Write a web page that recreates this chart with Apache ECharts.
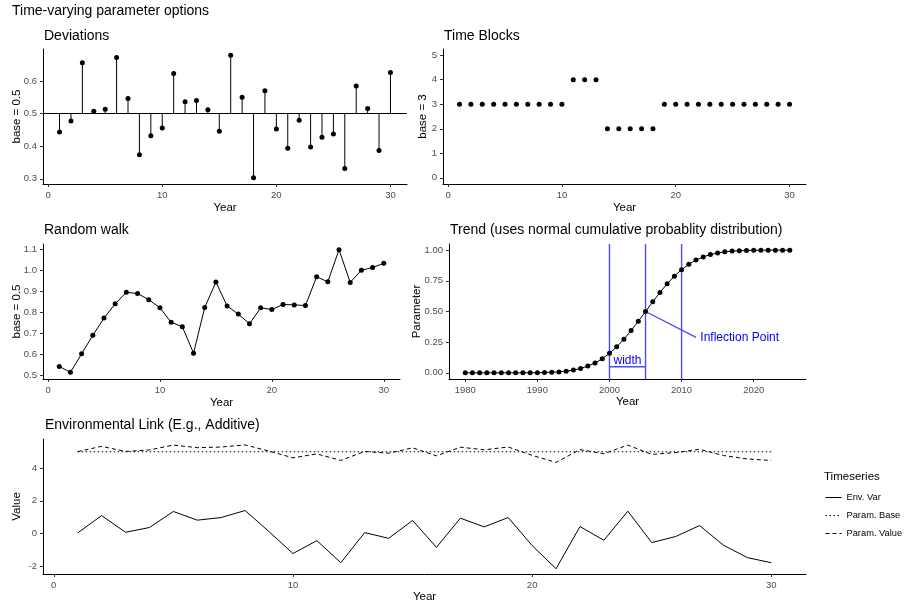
<!DOCTYPE html>
<html><head><meta charset="utf-8">
<script src="https://cdn.jsdelivr.net/npm/echarts@6/dist/echarts.min.js"></script>
<style>html,body{margin:0;padding:0;background:#fff}#c{width:907px;height:604px}</style>
</head><body><div id="c"></div>
<script>
// ---------- data ----------
const years = [1,2,3,4,5,6,7,8,9,10,11,12,13,14,15,16,17,18,19,20,21,22,23,24,25,26,27,28,29,30];
const devBase = 0.5;
const devValues = [0.444,0.478,0.657,0.508,0.514,0.673,0.547,0.374,0.432,0.456,0.624,0.537,0.541,0.512,0.446,0.680,0.551,0.303,0.571,0.453,0.394,0.480,0.398,0.428,0.438,0.332,0.585,0.516,0.387,0.627];
const blockValues = [3,3,3,3,3,3,3,3,3,3,4,4,4,2,2,2,2,2,3,3,3,3,3,3,3,3,3,3,3,3];
const walkValues = [0.544,0.516,0.604,0.692,0.774,0.842,0.897,0.891,0.862,0.823,0.754,0.733,0.607,0.824,0.946,0.832,0.793,0.747,0.823,0.815,0.839,0.837,0.834,0.971,0.947,1.100,0.944,1.002,1.015,1.035];
const trendYears = [1980,1981,1982,1983,1984,1985,1986,1987,1988,1989,1990,1991,1992,1993,1994,1995,1996,1997,1998,1999,2000,2001,2002,2003,2004,2005,2006,2007,2008,2009,2010,2011,2012,2013,2014,2015,2016,2017,2018,2019,2020,2021,2022,2023,2024,2025];
const trendValues = [0.000,0.000,0.000,0.000,0.000,0.000,0.000,0.000,0.000,0.001,0.001,0.003,0.005,0.008,0.014,0.023,0.036,0.055,0.081,0.115,0.159,0.212,0.274,0.345,0.421,0.500,0.579,0.655,0.726,0.788,0.841,0.885,0.919,0.945,0.964,0.977,0.986,0.992,0.995,0.997,0.999,0.999,1.000,1.000,1.000,1.000];
const trendGuides = [2000, 2005, 2010];
const widthSegment = [[2000, 0.05], [2005, 0.05]];
const inflectionSegment = [[2005, 0.5], [2012, 0.29]];
const trendNotes = [{pos: [2002.5, 0.1], text: 'width', align: 'center'}, {pos: [2012.6, 0.29], text: 'Inflection Point', align: 'left'}];
const envVar = [0.04,1.10,0.08,0.37,1.35,0.82,0.98,1.41,0.12,-1.22,-0.43,-1.78,0.06,-0.29,0.80,-0.84,0.94,0.41,0.98,-0.73,-2.15,0.43,-0.41,1.37,-0.55,-0.18,0.49,-0.71,-1.47,-1.78];
const paramBase = [5,5,5,5,5,5,5,5,5,5,5,5,5,5,5,5,5,5,5,5,5,5,5,5,5,5,5,5,5,5];
const paramValue = [5.01,5.33,5.02,5.11,5.41,5.25,5.29,5.42,5.04,4.63,4.87,4.47,5.02,4.91,5.24,4.75,5.28,5.12,5.29,4.78,4.35,5.13,4.88,5.41,4.84,4.95,5.15,4.77,4.56,4.47];
const seriesNames = ['Env. Var', 'Param. Base', 'Param. Value'];
const yearTicks = [0, 10, 20, 30];
const trendYearTicks = [1980, 1990, 2000, 2010, 2020];
const devTicks = [0.3, 0.4, 0.5, 0.6];
const blockTicks = [0, 1, 2, 3, 4, 5];
const walkTicks = [0.5, 0.6, 0.7, 0.8, 0.9, 1.0, 1.1];
const trendTicks = [0, 0.25, 0.5, 0.75, 1];
const envTicks = [-2, 0, 2, 4];
const trendYRange = [-0.05, 1.05];

// ---------- styling helpers ----------
const FF = '"Liberation Sans", Arial, sans-serif';
const BLUE = '#4a4aff';
function axis(kind, gi, min, max, ticks, name, nameGap, dec) {
  return {
    type: 'value', gridIndex: gi, min: min, max: max,
    name: name, nameLocation: 'middle', nameGap: nameGap, nameMoveOverlap: false,
    nameTextStyle: {fontFamily: FF, fontSize: 11.5, color: '#000'},
    axisLine: {show: true, onZero: false, lineStyle: {color: '#000', width: 1}},
    axisTick: {show: true, length: 3, customValues: ticks, lineStyle: {color: '#333', width: 1}},
    axisLabel: {show: true, customValues: ticks, margin: 6, fontFamily: FF, fontSize: 9.5, color: '#4d4d4d',
      formatter: v => Number(v).toFixed(dec)},
    splitLine: {show: false}
  };
}
function title(text, left, top, size) {
  return {text: text, left: left, top: top, padding: 0,
    textStyle: {fontFamily: FF, fontSize: size, fontWeight: 'normal', color: '#000'}};
}
const dot = {color: '#000', opacity: 1};

const chart = echarts.init(document.getElementById('c'), null, {renderer: 'canvas'});
chart.setOption({
  animation: false,
  backgroundColor: '#fff',
  title: [
    title('Time-varying parameter options', 12, 4, 14),
    title('Deviations', 44, 29, 14),
    title('Time Blocks', 444, 29, 14),
    title('Random walk', 44, 223, 14),
    title('Trend (uses normal cumulative probablity distribution)', 450, 223, 14),
    title('Environmental Link (E.g., Additive)', 45, 418, 14),
    title('Timeseries', 824, 471, 11.5)
  ],
  grid: [
    {left: 43, top: 49, width: 364, height: 135, outerBoundsMode: 'none'},
    {left: 443, top: 49, width: 363, height: 135, outerBoundsMode: 'none'},
    {left: 43, top: 244, width: 357, height: 135, outerBoundsMode: 'none'},
    {left: 449, top: 244, width: 357, height: 135, outerBoundsMode: 'none'},
    {left: 43, top: 439, width: 763, height: 135, outerBoundsMode: 'none'}
  ],
  xAxis: [
    axis('x', 0, -0.45, 31.45, yearTicks, 'Year', 18, 0),
    axis('x', 1, -0.45, 31.45, yearTicks, 'Year', 18, 0),
    axis('x', 2, -0.45, 31.45, yearTicks, 'Year', 18, 0),
    axis('x', 3, 1977.75, 2027.25, trendYearTicks, 'Year', 17, 0),
    axis('x', 4, -0.45, 31.45, yearTicks, 'Year', 17, 0)
  ],
  yAxis: [
    axis('y', 0, 0.284, 0.699, devTicks, 'base = 0.5', 20, 1),
    axis('y', 1, -0.25, 5.25, blockTicks, 'base = 3', 14, 0),
    axis('y', 2, 0.484, 1.127, walkTicks, 'base = 0.5', 20, 1),
    axis('y', 3, trendYRange[0], trendYRange[1], trendTicks, 'Parameter', 26, 2),
    axis('y', 4, -2.47, 5.78, envTicks, 'Value', 20, 0)
  ],
  legend: {
    data: seriesNames, orient: 'vertical', left: 825, top: 492, padding: 0,
    itemWidth: 16, itemHeight: 11, itemGap: 7, selectedMode: false,
    itemStyle: {opacity: 0},
    lineStyle: {width: 1},
    textStyle: {fontFamily: FF, fontSize: 9.3, color: '#000', lineHeight: 11}
  },
  series: [
    {
      type: 'custom', xAxisIndex: 0, yAxisIndex: 0, silent: true,
      data: years.map((y, i) => [y, devValues[i]]),
      renderItem: (params, api) => {
        const a = api.coord([api.value(0), devBase]);
        const b = api.coord([api.value(0), api.value(1)]);
        return {type: 'line', shape: {x1: a[0], y1: a[1], x2: b[0], y2: b[1]}, style: {stroke: '#000', lineWidth: 1}};
      }
    },
    {
      type: 'scatter', xAxisIndex: 0, yAxisIndex: 0, symbolSize: 5, itemStyle: dot, silent: true,
      data: years.map((y, i) => [y, devValues[i]]),
      markLine: {silent: true, symbol: 'none', label: {show: false},
        lineStyle: {color: '#000', width: 1, type: 'solid'}, data: [{yAxis: devBase}]}
    },
    {
      type: 'scatter', xAxisIndex: 1, yAxisIndex: 1, symbolSize: 5, itemStyle: dot, silent: true,
      data: years.map((y, i) => [y, blockValues[i]])
    },
    {
      type: 'line', xAxisIndex: 2, yAxisIndex: 2, symbol: 'circle', symbolSize: 5, itemStyle: dot,
      lineStyle: {color: '#000', width: 1}, silent: true,
      data: years.map((y, i) => [y, walkValues[i]])
    },
    {
      type: 'line', xAxisIndex: 3, yAxisIndex: 3, symbol: 'circle', symbolSize: 5, itemStyle: dot,
      lineStyle: {color: '#000', width: 1}, silent: true,
      data: trendYears.map((y, i) => [y, trendValues[i]])
    },
    {
      type: 'custom', xAxisIndex: 3, yAxisIndex: 3, silent: true, z: 3,
      data: trendGuides.map(g => [g, trendYRange[0], g, trendYRange[1]])
        .concat([[widthSegment[0][0], widthSegment[0][1], widthSegment[1][0], widthSegment[1][1]],
                 [inflectionSegment[0][0], inflectionSegment[0][1], inflectionSegment[1][0], inflectionSegment[1][1]]]),
      renderItem: (params, api) => {
        const a = api.coord([api.value(0), api.value(1)]);
        const b = api.coord([api.value(2), api.value(3)]);
        return {type: 'line', shape: {x1: a[0], y1: a[1], x2: b[0], y2: b[1]}, style: {stroke: BLUE, lineWidth: 1.4}};
      }
    },
    {
      type: 'custom', xAxisIndex: 3, yAxisIndex: 3, silent: true,
      data: trendNotes.map(n => n.pos),
      renderItem: (params, api) => {
        const p = api.coord([api.value(0), api.value(1)]);
        const n = trendNotes[params.dataIndex];
        return {type: 'text', x: p[0], y: p[1], style: {text: n.text, fill: '#0000ff', font: '12px ' + FF, align: n.align, verticalAlign: 'middle'}};
      }
    },
    {
      name: seriesNames[0], type: 'line', xAxisIndex: 4, yAxisIndex: 4, symbol: 'none', silent: true,
      lineStyle: {color: '#000', width: 1, type: 'solid'}, itemStyle: dot,
      data: years.map((y, i) => [y, envVar[i]])
    },
    {
      name: seriesNames[1], type: 'line', xAxisIndex: 4, yAxisIndex: 4, symbol: 'none', silent: true,
      lineStyle: {color: '#000', width: 1, type: [1.5, 2.5]}, itemStyle: dot,
      data: years.map((y, i) => [y, paramBase[i]])
    },
    {
      name: seriesNames[2], type: 'line', xAxisIndex: 4, yAxisIndex: 4, symbol: 'none', silent: true,
      lineStyle: {color: '#000', width: 1, type: [4, 3]}, itemStyle: dot,
      data: years.map((y, i) => [y, paramValue[i]])
    }
  ]
});
</script>
</body></html>
